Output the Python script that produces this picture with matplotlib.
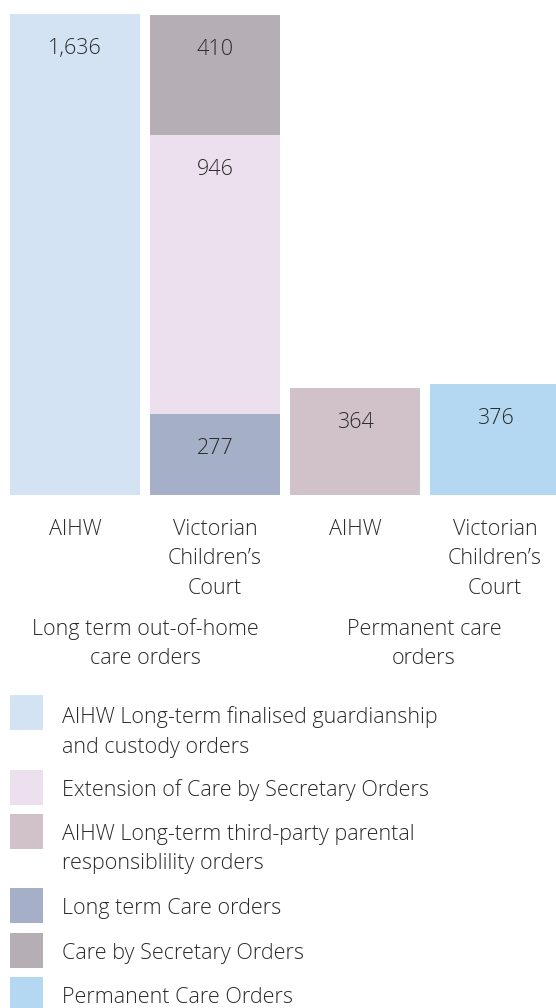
import matplotlib
matplotlib.use('Agg')
import matplotlib.pyplot as plt
from matplotlib.patches import Rectangle

# Data
categories = ['AIHW', 'Victorian\nChildren’s\nCourt', 'AIHW', 'Victorian\nChildren’s\nCourt']
groups = ['Long term out-of-home\ncare orders', 'Permanent care\norders']
aihw_longterm = [1636, 0, 0, 0]
long_term_care = [0, 277, 0, 0]
extension_care = [0, 946, 0, 0]
care_secretary = [0, 410, 0, 0]
aihw_third_party = [0, 0, 364, 0]
permanent_care = [0, 0, 0, 376]

legend_labels = ['AIHW Long-term finalised guardianship\nand custody orders',
                 'Extension of Care by Secretary Orders',
                 'AIHW Long-term third-party parental\nresponsiblility orders',
                 'Long term Care orders',
                 'Care by Secretary Orders',
                 'Permanent Care Orders']

c_aihw = '#d4e3f4'
c_ext = '#ecdfee'
c_third = '#d1c1c8'
c_ltc = '#a5b0c8'
c_sec = '#b5afb5'
c_perm = '#b5d8f2'
legend_colors = [c_aihw, c_ext, c_third, c_ltc, c_sec, c_perm]

plt.rcParams['font.family'] = ['Open Sans', 'DejaVu Sans']
txt = '#2a2a2a'
fs = 15.5
WEIGHT = 'light'
LINE = 29.5

W, H = 556, 1008
fig = plt.figure(figsize=(W / 100, H / 100), dpi=100)


def fx(px):
    return px / W


def fy(py):
    return 1 - py / H


def lines(xp, yp, s, ha='center'):
    # each line placed separately so spacing matches the original
    for k, part in enumerate(s.split('\n')):
        fig.text(fx(xp), fy(yp + k * LINE), part, ha=ha, va='center_baseline',
                 fontsize=fs, color=txt, fontweight=WEIGHT)


# bar axes: bottom at pixel 495, top at pixel 14 (value 1636)
ax = fig.add_axes([0, fy(495), 1, (495 - 14) / H])
x = [0, 1, 2, 3]
w = 130 / 140
ax.set_xlim(-75 / 140, (W - 75) / 140)
ax.set_ylim(0, 1636)
ax.axis('off')

stack = [
    (aihw_longterm, c_aihw),
    (long_term_care, c_ltc),
    (extension_care, c_ext),
    (care_secretary, c_sec),
    (aihw_third_party, c_third),
    (permanent_care, c_perm),
]
bottom = [0, 0, 0, 0]
for vals, col in stack:
    ax.bar(x, vals, width=w, bottom=bottom, color=col, linewidth=0, clip_on=False)
    for i, v in enumerate(vals):
        if v > 0:
            top = bottom[i] + v
            ax.annotate(f'{v:,}', (x[i], top), xytext=(0, -32 * 0.72), textcoords='offset points',
                        ha='center', va='center_baseline', fontsize=fs, color=txt,
                        fontweight=WEIGHT)
    bottom = [b + v for b, v in zip(bottom, vals)]

# category labels
for i, lab in enumerate(categories):
    lines(75 + 140 * i, 527, lab)

lines(145, 627, groups[0])
lines(424, 627, groups[1])

# legend
sq_tops = [695, 770, 814, 888, 933, 977]
text_y = [715, 788, 832, 906, 951, 995]
for top, ty, col, lab in zip(sq_tops, text_y, legend_colors, legend_labels):
    fig.patches.append(Rectangle((fx(10), fy(top + 35)), 33 / W, 35 / H,
                                 transform=fig.transFigure, color=col, linewidth=0))
    lines(62, ty, lab, ha='left')

fig.savefig('out.png', dpi=100)
